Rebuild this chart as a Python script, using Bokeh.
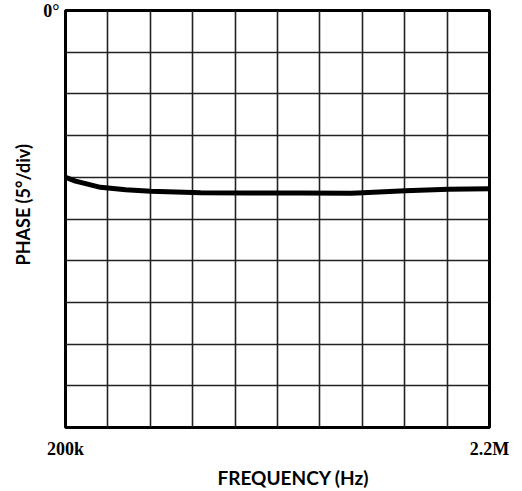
from bokeh.plotting import figure
from bokeh.models import Range1d, SingleIntervalTicker, FixedTicker, Title
from bokeh.embed import file_html
from bokeh.resources import INLINE

# data (frequency in kHz, phase in degrees)
freq_khz = [200, 247, 295, 365, 484, 602, 838, 1075, 1311, 1548, 1604, 1803, 2006, 2200]
phase_deg = [-20.0, -20.45, -20.76, -21.2, -21.48, -21.68, -21.85, -21.87, -21.88, -21.9, -21.84, -21.6, -21.44, -21.36]

x_ticks = [200, 2200]
x_tick_labels = ["200k", "2.2M"]
y_ticks = [0]
y_tick_labels = ["0°"]
x_title = "FREQUENCY (Hz)"
y_title = "PHASE (5°/div)"

p = figure(width=522, height=491, output_backend="svg", toolbar_location=None,
           x_range=Range1d(200, 2200), y_range=Range1d(-50, 0),
           min_border_left=65, min_border_right=33, min_border_top=10, min_border_bottom=62)
p.background_fill_color = "white"
p.border_fill_color = "white"
p.outline_line_color = "black"
p.outline_line_width = 3

p.xgrid.ticker = SingleIntervalTicker(interval=200, num_minor_ticks=0)
p.ygrid.ticker = SingleIntervalTicker(interval=5, num_minor_ticks=0)
for g in (p.xgrid, p.ygrid):
    g.grid_line_color = "#222222"
    g.grid_line_width = 1.6

serif = "Liberation Serif"
sans = "Lato"

for ax, ticks, labs in ((p.xaxis[0], x_ticks, x_tick_labels), (p.yaxis[0], y_ticks, y_tick_labels)):
    ax.ticker = FixedTicker(ticks=ticks)
    ax.major_label_overrides = {t: l for t, l in zip(ticks, labs)}
    ax.axis_line_color = None
    ax.major_tick_line_color = None
    ax.minor_tick_line_color = None
    ax.major_tick_in = 0
    ax.major_tick_out = 0
    ax.minor_tick_in = 0
    ax.minor_tick_out = 0
    ax.major_label_text_font = serif
    ax.major_label_text_font_style = "bold"
    ax.major_label_text_font_size = "18px"
    ax.major_label_text_color = "black"
p.xaxis.major_label_standoff = 11
p.yaxis.major_label_standoff = 6

p.add_layout(Title(text=x_title, align="left", offset=152, standoff=5,
                   text_font=sans, text_font_style="bold", text_font_size="19px",
                   text_color="black"), "below")
p.add_layout(Title(text=y_title, align="left", offset=162, standoff=13,
                   text_font=sans, text_font_style="bold", text_font_size="18px",
                   text_color="black"), "left")

p.line(freq_khz, phase_deg, line_width=5, line_color="black", line_join="round", line_cap="round")

open("out.html", "w").write(file_html(p, INLINE))
